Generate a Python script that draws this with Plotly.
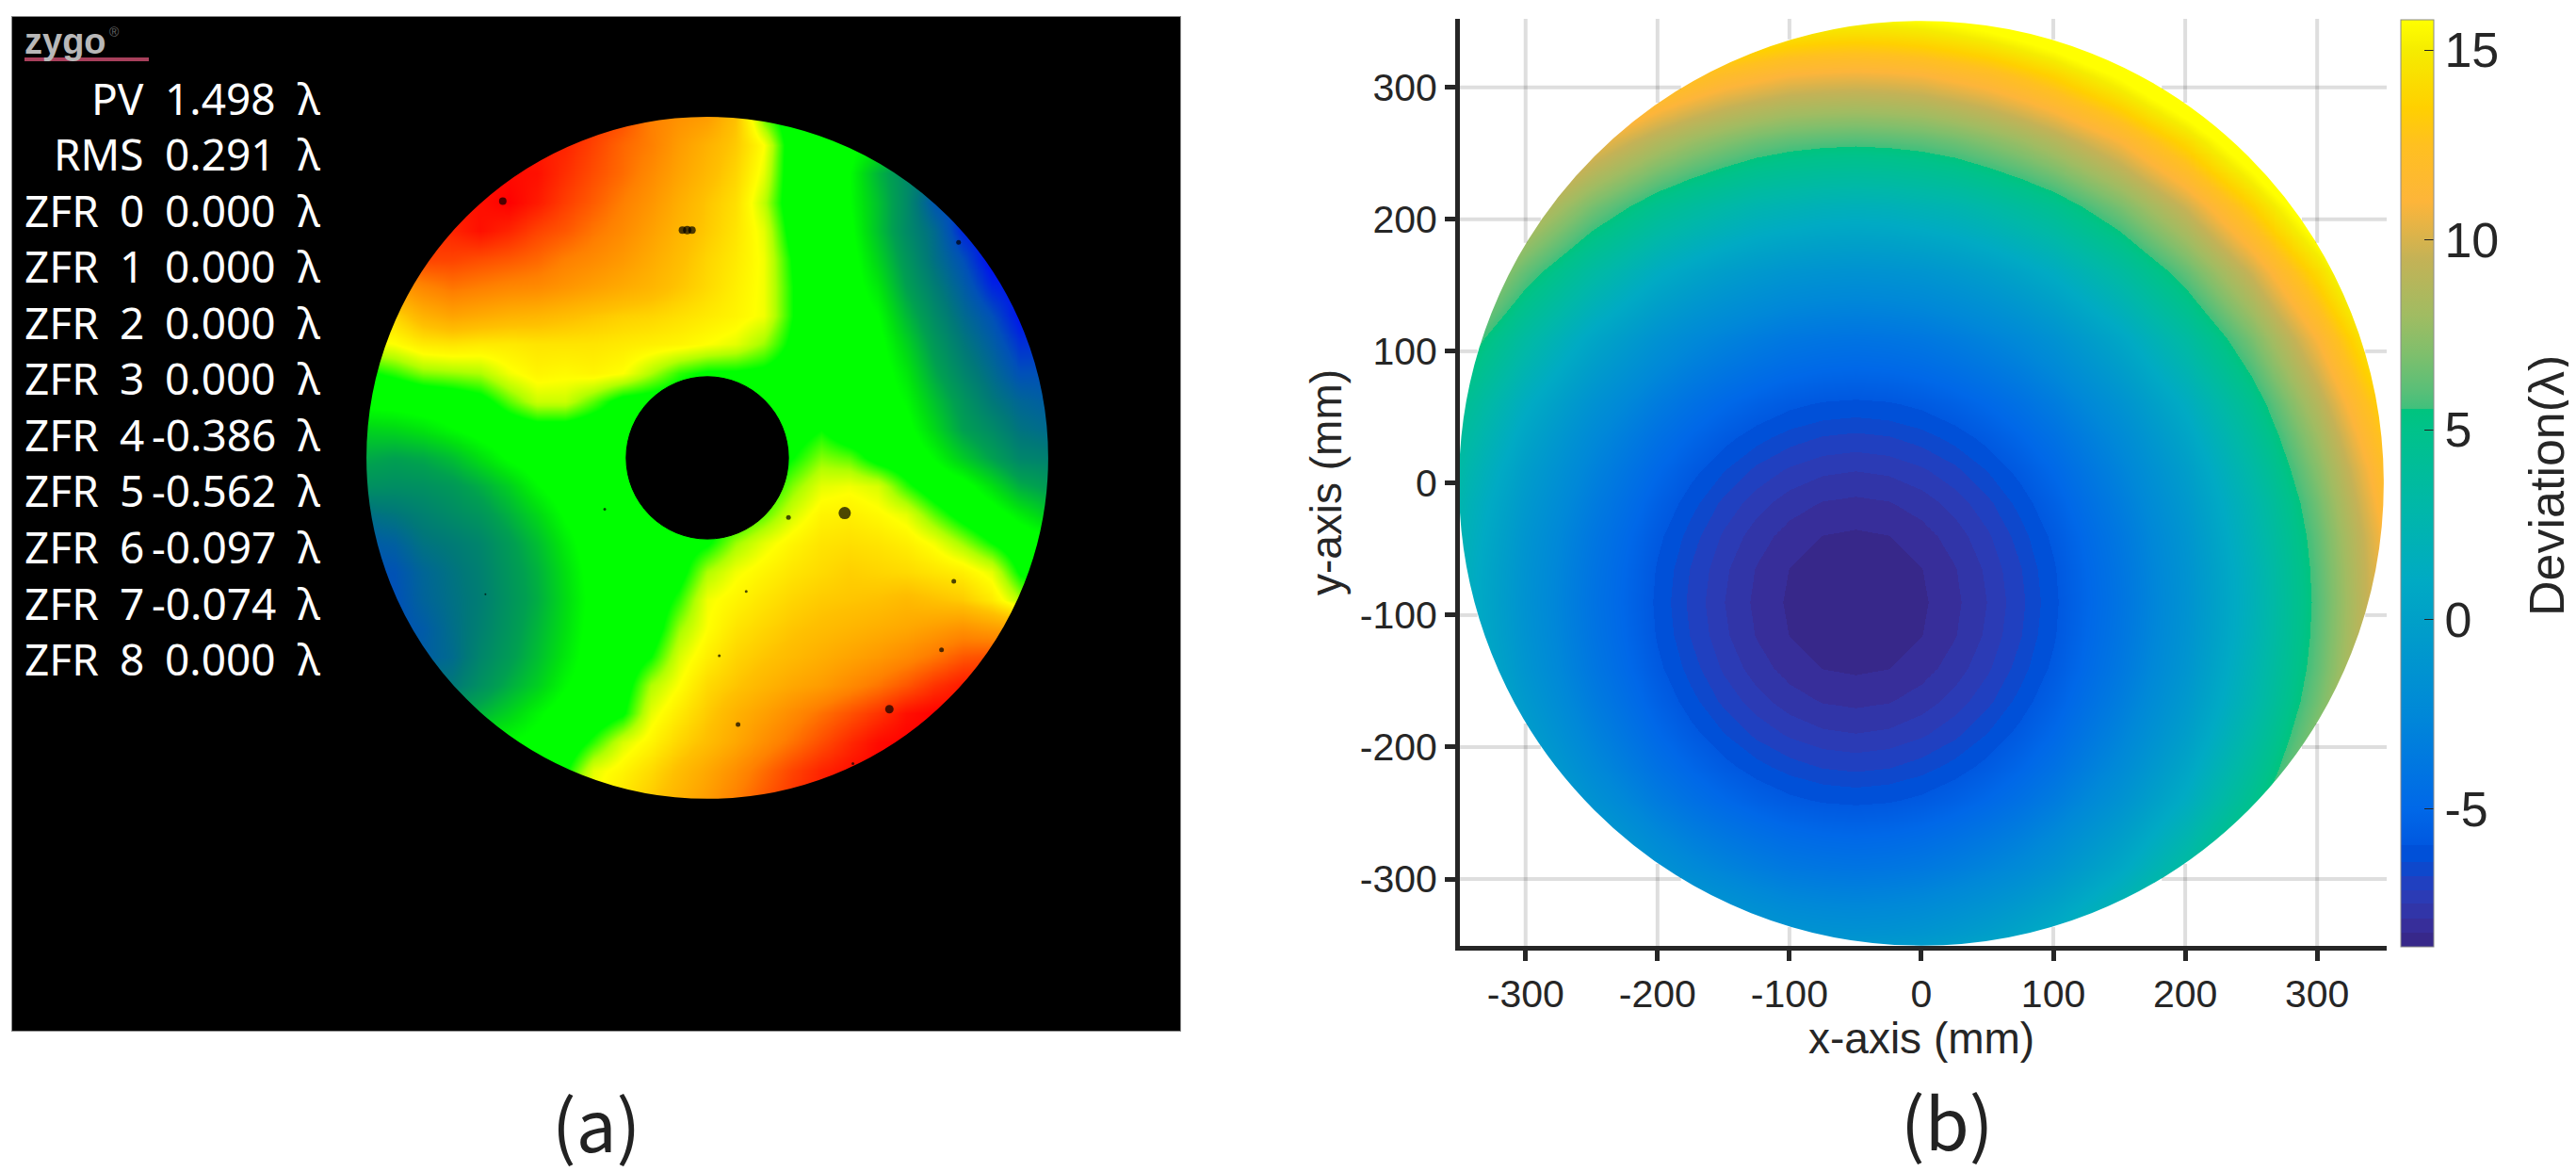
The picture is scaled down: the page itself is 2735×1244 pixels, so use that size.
import numpy as np
import plotly.graph_objects as go

# the page keeps the browser's 8px body margin, so the figure is that much smaller
PAGE_W = 2735
PAGE_H = 1244
PAD = 8
W = PAGE_W - PAD
H = PAGE_H - PAD

# panel (a): interferogram, values in hundredths of a wave
stat_names = ["PV", "RMS"]
stat_values = ["1.498", "0.291"]
zfr_index = ["0", "1", "2", "3", "4", "5", "6", "7", "8"]
zfr_values = ["0.000", "0.000", "0.000", "0.000", "-0.386", "-0.562", "-0.097", "-0.074", "0.000"]

pupil = [-1 + i / 12 for i in range(25)]
hole_radius = 0.238

wave_rows = [
    [60,60,60,60,65,70,70,70,65,60,50,45,42,32,10,0,-5,-5,-10,-20,-30,-40,-50,-60,-60],
    [70,70,70,70,70,70,70,68,62,55,50,42,36,30,20,0,-2,-5,-12,-25,-35,-50,-60,-65,-65],
    [72,72,72,72,72,73,72,66,60,54,47,40,34,28,18,0,-1,-8,-25,-38,-50,-62,-68,-70,-70],
    [70,70,70,70,72,75,70,63,57,50,44,37,31,26,15,0,0,-8,-22,-38,-58,-66,-72,-72,-72],
    [66,66,66,68,72,68,62,58,52,47,41,35,30,25,18,2,0,-6,-22,-38,-50,-68,-72,-72,-72],
    [60,60,62,62,60,58,55,50,47,43,38,33,28,24,19,5,0,-4,-18,-34,-48,-60,-74,-74,-74],
    [42,42,48,52,50,48,47,44,41,38,35,31,27,23,19,6,0,-3,-13,-30,-43,-55,-68,-72,-72],
    [28,28,36,40,38,36,35,33,31,29,28,26,24,22,19,6,0,-2,-8,-24,-38,-50,-60,-72,-72],
    [18,20,24,25,24,24,25,25,25,24,23,22,20,18,13,4,0,-1,-5,-18,-33,-45,-55,-66,-66],
    [5,8,12,13,14,19,22,21,22,20,14,8,5,5,4,1,0,0,-3,-13,-28,-40,-50,-60,-60],
    [-5,-4,-2,0,3,10,16,16,10,3,2,1,0,0,0,0,0,0,-2,-9,-22,-34,-45,-52,-55],
    [-18,-17,-14,-9,-4,0,2,2,0,0,0,0,0,0,0,2,6,0,0,-5,-17,-30,-38,-47,-50],
    [-28,-30,-28,-23,-15,-7,-2,0,0,0,0,0,0,0,0,6,12,10,3,0,-9,-20,-30,-40,-42],
    [-36,-37,-36,-33,-27,-19,-9,-2,0,0,0,0,0,2,4,12,18,19,17,8,1,-4,-15,-27,-32],
    [-48,-46,-42,-38,-34,-26,-17,-7,-1,0,0,0,2,5,10,17,22,23,21,18,10,3,-3,-12,-20],
    [-56,-54,-47,-44,-40,-32,-23,-12,-2,0,0,2,5,13,18,22,25,26,25,23,19,13,6,0,-5],
    [-60,-59,-52,-47,-42,-34,-26,-15,-4,0,0,3,14,19,22,25,27,29,28,27,25,23,18,5,0],
    [-62,-60,-53,-48,-43,-35,-27,-16,-5,-1,0,8,19,22,25,28,30,31,32,34,32,30,24,14,10],
    [-60,-60,-56,-49,-42,-34,-25,-15,-4,0,1,13,20,25,28,31,33,35,37,39,42,45,42,40,40],
    [-55,-55,-55,-50,-40,-32,-23,-13,-3,0,6,17,23,28,31,34,37,40,43,47,52,58,60,60,60],
    [-45,-45,-45,-45,-36,-27,-19,-9,-2,2,14,20,27,31,35,39,42,47,52,58,65,70,70,70,70],
    [-30,-30,-30,-30,-25,-18,-10,-3,0,5,18,24,30,36,41,47,53,59,65,72,75,75,75,75,75],
    [-10,-10,-10,-10,-10,-8,-5,0,8,17,22,28,33,39,46,53,60,67,73,75,75,75,75,75,75],
    [5,5,5,5,5,5,5,5,18,22,27,33,39,46,54,62,68,72,75,75,75,75,75,75,75],
    [15,15,15,15,15,15,15,15,20,25,30,36,42,50,58,65,70,74,75,75,75,75,75,75,75],
]

speck_x = [-0.60, -0.073, -0.059, -0.045, 0.403, 0.238, 0.723, 0.687, 0.534, 0.09, 0.035, 0.114, -0.301, -0.651, 0.737, 0.427]
speck_y = [0.753, 0.668, 0.668, 0.668, -0.162, -0.175, -0.362, -0.563, -0.737, -0.782, -0.58, -0.392, -0.151, -0.4, 0.632, -0.897]
speck_size = [8, 8, 9, 8, 13, 5, 5, 5, 9, 5, 3, 3, 3, 2, 5, 3]

wave_levels = [-75, -60, -45, -30, -15, -8, 6, 14, 20, 32, 50, 75]
wave_colors = ["#0000ff", "#0050b8", "#007878", "#00a050", "#00e010", "#00ff00",
               "#00ff00", "#b0ff00", "#ffff00", "#ffc000", "#ff8000", "#ff0000"]

# panel (b): deviation map, values in waves
dev_x = [-350, -300, -250, -200, -175, -150, -125, -100, -75, -50, -25, 0, 25, 50, 75, 100, 150, 200, 250, 300, 350]
dev_y = [360, 310, 260, 210, 160, 110, 60, 35, 10, -15, -40, -65, -90, -115, -140, -165, -190, -215, -240, -290, -340, -390]
dev_rows = [
    [29.3,25.3,22.0,19.5,18.6,17.8,17.2,16.8,16.5,16.4,16.5,16.8,17.2,17.8,18.6,19.5,22.0,25.3,29.3,34.2,40.1],
    [23.1,19.2,16.1,13.7,12.8,12.0,11.5,11.0,10.8,10.7,10.8,11.0,11.5,12.0,12.8,13.7,16.1,19.2,23.1,27.8,33.5],
    [17.8,14.0,11.0,8.8,7.9,7.2,6.6,6.2,6.0,5.9,6.0,6.2,6.6,7.2,7.9,8.8,11.0,14.0,17.8,22.4,27.8],
    [13.4,9.7,6.8,4.6,3.8,3.1,2.5,2.2,1.9,1.8,1.9,2.2,2.5,3.1,3.8,4.6,6.8,9.7,13.4,17.8,23.1],
    [9.7,6.2,3.4,1.2,0.4,-0.3,-0.8,-1.2,-1.4,-1.5,-1.4,-1.2,-0.8,-0.3,0.4,1.2,3.4,6.2,9.7,14.0,19.2],
    [6.8,3.4,0.6,-1.5,-2.3,-2.9,-3.4,-3.8,-4.0,-4.1,-4.0,-3.8,-3.4,-2.9,-2.3,-1.5,0.6,3.4,6.8,11.0,16.1],
    [4.6,1.2,-1.5,-3.51,-4.31,-4.95,-5.45,-5.81,-6.02,-6.09,-6.02,-5.81,-5.45,-4.95,-4.31,-3.51,-1.5,1.2,4.6,8.8,13.7],
    [3.8,0.4,-2.3,-4.31,-5.10,-5.74,-6.23,-6.58,-6.79,-6.87,-6.79,-6.58,-6.23,-5.74,-5.10,-4.31,-2.3,0.4,3.8,7.9,12.8],
    [3.1,-0.3,-2.9,-4.95,-5.74,-6.37,-6.87,-7.21,-7.42,-7.49,-7.42,-7.21,-6.87,-6.37,-5.74,-4.95,-2.9,-0.3,3.1,7.2,12.0],
    [2.5,-0.8,-3.4,-5.45,-6.23,-6.87,-7.35,-7.70,-7.91,-7.98,-7.91,-7.70,-7.35,-6.87,-6.23,-5.45,-3.4,-0.8,2.5,6.6,11.5],
    [2.2,-1.2,-3.8,-5.81,-6.58,-7.21,-7.70,-8.05,-8.26,-8.32,-8.26,-8.05,-7.70,-7.21,-6.58,-5.81,-3.8,-1.2,2.2,6.2,11.0],
    [1.9,-1.4,-4.0,-6.02,-6.79,-7.42,-7.91,-8.26,-8.46,-8.53,-8.46,-8.26,-7.91,-7.42,-6.79,-6.02,-4.0,-1.4,1.9,6.0,10.8],
    [1.8,-1.5,-4.1,-6.09,-6.87,-7.49,-7.98,-8.32,-8.53,-8.60,-8.53,-8.32,-7.98,-7.49,-6.87,-6.09,-4.1,-1.5,1.8,5.9,10.7],
    [1.9,-1.4,-4.0,-6.02,-6.79,-7.42,-7.91,-8.26,-8.46,-8.53,-8.46,-8.26,-7.91,-7.42,-6.79,-6.02,-4.0,-1.4,1.9,6.0,10.8],
    [2.2,-1.2,-3.8,-5.81,-6.58,-7.21,-7.70,-8.05,-8.26,-8.32,-8.26,-8.05,-7.70,-7.21,-6.58,-5.81,-3.8,-1.2,2.2,6.2,11.0],
    [2.5,-0.8,-3.4,-5.45,-6.23,-6.87,-7.35,-7.70,-7.91,-7.98,-7.91,-7.70,-7.35,-6.87,-6.23,-5.45,-3.4,-0.8,2.5,6.6,11.5],
    [3.1,-0.3,-2.9,-4.95,-5.74,-6.37,-6.87,-7.21,-7.42,-7.49,-7.42,-7.21,-6.87,-6.37,-5.74,-4.95,-2.9,-0.3,3.1,7.2,12.0],
    [3.8,0.4,-2.3,-4.31,-5.10,-5.74,-6.23,-6.58,-6.79,-6.87,-6.79,-6.58,-6.23,-5.74,-5.10,-4.31,-2.3,0.4,3.8,7.9,12.8],
    [4.6,1.2,-1.5,-3.51,-4.31,-4.95,-5.45,-5.81,-6.02,-6.09,-6.02,-5.81,-5.45,-4.95,-4.31,-3.51,-1.5,1.2,4.6,8.8,13.7],
    [6.8,3.4,0.6,-1.5,-2.3,-2.9,-3.4,-3.8,-4.0,-4.1,-4.0,-3.8,-3.4,-2.9,-2.3,-1.5,0.6,3.4,6.8,11.0,16.1],
    [9.7,6.2,3.4,1.2,0.4,-0.3,-0.8,-1.2,-1.4,-1.5,-1.4,-1.2,-0.8,-0.3,0.4,1.2,3.4,6.2,9.7,14.0,19.2],
    [13.4,9.7,6.8,4.6,3.8,3.1,2.5,2.2,1.9,1.8,1.9,2.2,2.5,3.1,3.8,4.6,6.8,9.7,13.4,17.8,23.1],
]

dev_min = -8.63
dev_max = 15.8
dev_radius = 351
dev_levels = [-8.63, -8.25, -8.25, -7.88, -7.88, -7.5, -7.5, -7.14, -7.14, -6.76, -6.76, -6.39, -6.39, -5.94,
              -5.94, -5, -2.5, 0, 1, 3, 5, 5.55, 5.55, 6, 7, 8, 9.5, 11, 12.5, 13.5, 15, 15.8]
dev_colors = ["#37288a", "#37288a", "#372e9a", "#372e9a", "#3135a8", "#3135a8", "#2b3bb5", "#2b3bb5",
              "#2040c0", "#2040c0", "#0e48cc", "#0e48cc", "#0050d8", "#0050d8",
              "#0058e0", "#0068e8", "#0088d8", "#00a0c8", "#00aac4", "#00b8a8", "#00c28a", "#00c47e",
              "#40c07c", "#58bf78", "#7fbf6c", "#a0bc62", "#c4b256", "#fdb53a", "#ffc020", "#ffd000", "#f5ec00", "#ffff00"]

axis_ticks = [-300, -200, -100, 0, 100, 200, 300]
axis_labels = ["-300", "-200", "-100", "0", "100", "200", "300"]
bar_ticks = [-5, 0, 5, 10, 15]
bar_labels = ["-5", "0", "5", "10", "15"]


def fx(p):
    return (p - PAD) / W


def fy(p):
    return 1 - (p - PAD) / H


def scale(levels, colors):
    low = levels[0]
    high = levels[-1]
    return [[(v - low) / (high - low), c] for v, c in zip(levels, colors)]


fig = go.Figure()

fig.add_trace(go.Heatmap(
    x=pupil, y=pupil[::-1], z=wave_rows, xaxis="x", yaxis="y",
    zmin=wave_levels[0], zmax=wave_levels[-1], colorscale=scale(wave_levels, wave_colors),
    zsmooth="best", showscale=False,
))
fig.add_trace(go.Scatter(
    x=speck_x, y=speck_y, mode="markers", xaxis="x", yaxis="y", showlegend=False,
    marker=dict(color="black", size=speck_size, line_width=0),
))
fig.add_trace(go.Heatmap(
    x=dev_x, y=dev_y, z=dev_rows, xaxis="x2", yaxis="y2",
    zmin=dev_min, zmax=dev_max, colorscale=scale(dev_levels, dev_colors),
    zsmooth="best",
    colorbar=dict(
        x=fx(2549), xanchor="left", xpad=0, y=fy(21), yanchor="top", ypad=0,
        len=(1005 - 21) / H, lenmode="fraction", thickness=35, thicknessmode="pixels",
        outlinecolor="#8a8a8a", outlinewidth=1,
        tickmode="array", tickvals=bar_ticks, ticktext=bar_labels,
        ticks="inside", ticklen=10, tickwidth=1, tickcolor="#222222",
        tickfont=dict(family="Liberation Sans", size=52, color="#262626"),
    ),
))

# panel (a): black ground, black ring outside the disc and the central hole
shapes = [
    dict(type="rect", xref="paper", yref="paper", x0=fx(13), x1=fx(1253), y0=fy(1094), y1=fy(18),
         line_width=0, fillcolor="black", layer="below"),
    dict(type="circle", xref="x", yref="y", x0=-1.25, x1=1.25, y0=-1.25, y1=1.25,
         line=dict(color="black", width=181), fillcolor="rgba(0,0,0,0)", layer="above"),
    dict(type="circle", xref="x", yref="y", x0=-hole_radius, x1=hole_radius, y0=-hole_radius, y1=hole_radius,
         line=dict(color="black", width=1), fillcolor="black", layer="above"),
    dict(type="line", xref="paper", yref="paper", x0=fx(26), x1=fx(158), y0=fy(63), y1=fy(63),
         line=dict(color="#a8405c", width=4), layer="above"),
]

# panel (b) mask, with the grid redrawn outside the disc
shapes.append(dict(type="circle", xref="x2", yref="y2", x0=-429, x1=429, y0=-429, y1=429,
                   line=dict(color="white", width=220), fillcolor="rgba(0,0,0,0)", layer="above"))
grid_line = dict(color="rgba(0,0,0,0.13)", width=4)
for v in axis_ticks:
    if v == 0:
        continue
    edge = float(np.sqrt(dev_radius ** 2 - v ** 2))
    for a, b in [(-353, -edge), (edge, 353)]:
        shapes.append(dict(type="line", xref="x2", yref="y2", x0=v, x1=v, y0=a, y1=b, line=grid_line, layer="above"))
        shapes.append(dict(type="line", xref="x2", yref="y2", x0=a, x1=b, y0=v, y1=v, line=grid_line, layer="above"))

# readout text on panel (a)
text_font = dict(family="Noto Sans", size=46, color="white")
notes = []


def note(text, x, y, anchor, font=text_font, angle=0):
    notes.append(dict(text=text, xref="paper", yref="paper", x=fx(x), y=fy(y), xanchor=anchor, yanchor="middle",
                      showarrow=False, font=font, textangle=angle))


row_y = 104
for name, value in zip(stat_names, stat_values):
    note(name, 155, row_y, "right")
    note(value, 295, row_y, "right")
    note("λ", 314, row_y, "left")
    row_y += 59.5
for index, value in zip(zfr_index, zfr_values):
    note("ZFR", 24, row_y, "left")
    note(index, 155, row_y, "right")
    note(value, 295, row_y, "right")
    note("λ", 314, row_y, "left")
    row_y += 59.5

note("<b>zygo</b>", 24, 44, "left", dict(family="Liberation Sans", size=38, color="#b8b8b8"))
note("®", 114, 34, "left", dict(family="Liberation Sans", size=14, color="#666666"))
note("(a)", 633, 1190, "center", dict(family="Noto Sans CJK SC", size=76, color="#222222"))
note("(b)", 2067, 1188, "center", dict(family="Noto Sans CJK SC", size=76, color="#222222"))
note("Deviation(λ)", 2704, 516, "center", dict(family="Liberation Sans", size=52, color="#262626"), angle=-90)

tick_font = dict(family="Liberation Sans", size=41, color="#262626")
title_font = dict(family="Liberation Sans", size=46, color="#262626")
note("x-axis (mm)", 2040, 1102, "center", title_font)

fig.update_layout(
    width=W, height=H, margin=dict(l=0, r=0, t=0, b=0), autosize=False,
    paper_bgcolor="white", plot_bgcolor="rgba(0,0,0,0)", showlegend=False,
    shapes=shapes, annotations=notes,
    xaxis=dict(domain=[fx(13), fx(1253)], range=[-2.039, 1.387], showgrid=False, zeroline=False,
               showticklabels=False, ticks="", showline=True, linecolor="#8a8a8a", linewidth=1, mirror=True),
    yaxis=dict(domain=[fy(1094), fy(18)], range=[-1.680, 1.293], showgrid=False, zeroline=False,
               showticklabels=False, ticks="", showline=True, linecolor="#8a8a8a", linewidth=1, mirror=True),
    xaxis2=dict(domain=[fx(1550), fx(2534)], range=[-349.8, 352.7], anchor="y2", showgrid=False, zeroline=False,
                tickmode="array", tickvals=axis_ticks, ticktext=axis_labels, ticks="outside", ticklen=11, tickwidth=5,
                tickcolor="#262626", tickfont=tick_font, showline=True, linecolor="#262626", linewidth=5),
    yaxis2=dict(domain=[fy(1004), fy(20)], range=[-350.7, 352], anchor="x2", showgrid=False, zeroline=False,
                tickmode="array", tickvals=axis_ticks, ticktext=axis_labels, ticks="outside", ticklen=11, tickwidth=5,
                tickcolor="#262626", tickfont=tick_font, showline=True, linecolor="#262626", linewidth=5,
                title=dict(text="y-axis (mm)", font=title_font, standoff=6)),
)

fig.write_html("out.html")
